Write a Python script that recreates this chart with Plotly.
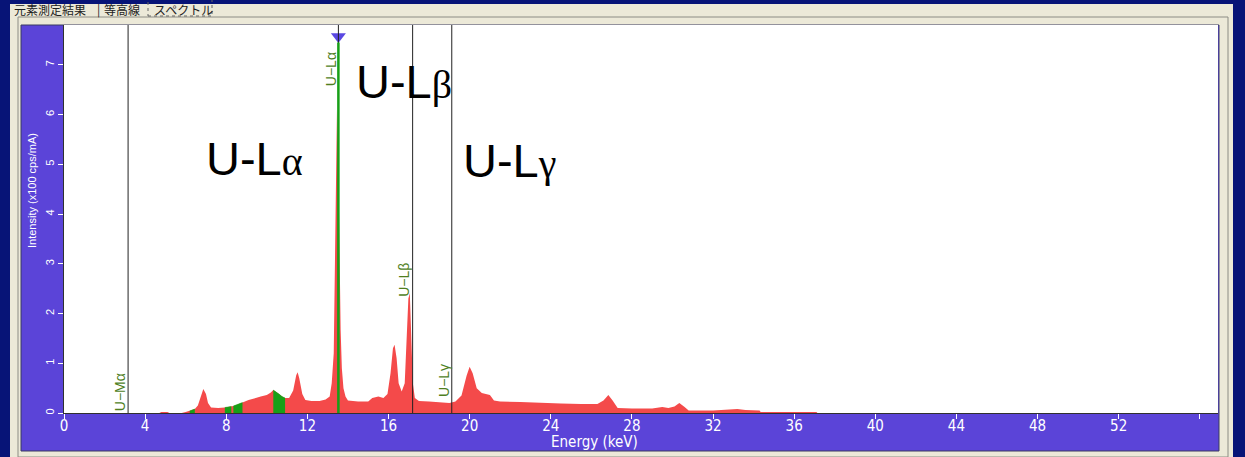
import plotly.graph_objects as go

W, H = 1245, 457

# ---- data ----
energy = [0.0, 4.7, 4.8, 5.1, 5.2, 5.8, 6.0, 6.2, 6.3, 6.45, 6.6, 6.75, 6.87, 7.0, 7.1, 7.25,
          7.4, 7.6, 7.93, 8.1, 8.25, 8.35, 8.5, 8.65, 8.8, 9.1, 9.4, 9.7, 10.0, 10.2, 10.32,
          10.45, 10.6, 10.75, 10.9, 11.1, 11.3, 11.45, 11.52, 11.6, 11.75, 11.9, 12.2, 12.6,
          12.9, 13.1, 13.2, 13.3, 13.36, 13.42, 13.46, 13.52, 13.58, 13.64, 13.7, 13.78, 13.88,
          14.0, 14.5, 15.0, 15.2, 15.5, 15.75, 15.95, 16.1, 16.22, 16.3, 16.4, 16.5, 16.65,
          16.8, 16.9, 16.98, 17.05, 17.12, 17.2, 17.3, 17.5, 18.0, 18.5, 19.0, 19.3, 19.6,
          19.85, 20.0, 20.15, 20.35, 20.6, 21.0, 21.2, 21.5, 22.5, 23.5, 24.5, 25.5, 26.3,
          26.6, 26.84, 27.05, 27.3, 28.0, 29.0, 29.5, 29.8, 30.1, 30.34, 30.6, 30.8, 32.0,
          33.2, 33.6, 34.3, 34.35, 37.1, 37.15]
intensity = [0.0, 0.0, 0.02, 0.02, 0.0, 0.0, 0.02, 0.04, 0.05, 0.08, 0.15, 0.34, 0.48, 0.38, 0.2, 0.11,
             0.1, 0.1, 0.11, 0.12, 0.13, 0.14, 0.16, 0.18, 0.21, 0.26, 0.3, 0.33, 0.36, 0.41, 0.46,
             0.43, 0.38, 0.33, 0.3, 0.3, 0.45, 0.76, 0.82, 0.7, 0.38, 0.26, 0.24, 0.24,
             0.27, 0.33, 0.6, 1.2, 2.9, 4.4, 6.1, 5.26, 3.35, 1.67, 0.9, 0.5, 0.33,
             0.25, 0.23, 0.23, 0.3, 0.33, 0.3, 0.38, 0.8, 1.3, 1.37, 1.1, 0.6, 0.43,
             0.6, 1.5, 2.3, 2.41, 1.6, 0.6, 0.3, 0.24, 0.23, 0.22, 0.2, 0.23, 0.35,
             0.75, 0.93, 0.8, 0.5, 0.4, 0.36, 0.25, 0.23, 0.22, 0.2, 0.19, 0.18, 0.18,
             0.25, 0.36, 0.25, 0.1, 0.09, 0.09, 0.12, 0.1, 0.13, 0.2, 0.12, 0.05, 0.05,
             0.08, 0.06, 0.05, 0.02, 0.02, 0.0]

green_ranges = [(6.2, 6.45), (7.93, 8.25), (8.35, 8.8), (10.32, 10.9)]

line_names = ["U−Mα", "U−Lα", "U−Lβ", "U−Lγ"]
line_energy = [3.16, 13.53, 17.19, 19.12]
label_y = [0.42, 6.92, 2.67, 0.66]

big_names = ["U-L", "U-L", "U-L"]
big_greek = ["α", "β", "γ"]

x_ticks = list(range(0, 57, 4))
x_ticktext = [str(v) if v <= 52 else "" for v in x_ticks]
y_ticks = list(range(0, 8))

X_RANGE = [0, 56.9]
Y_RANGE = [0, 7.8]


def px(x):
    return x / W


def py(y):
    return 1 - y / H


RED = "#f44a4a"
GREEN = "#17a017"
PURPLE = "#5b44d8"
NAVY = "#071477"
GRAY = "#ece9d8"
LABEL_GREEN = "#4f7f1f"
NARROW = "Liberation Sans Narrow, Arial Narrow, DejaVu Sans Condensed, sans-serif"

fig = go.Figure()

fig.add_trace(go.Scatter(x=energy, y=intensity, mode="lines", fill="tozeroy",
                         fillcolor=RED, line=dict(color=RED, width=0),
                         hoverinfo="skip", showlegend=False))

for lo, hi in green_ranges:
    xs = [e for e in energy if lo <= e <= hi]
    ys = [v for e, v in zip(energy, intensity) if lo <= e <= hi]
    fig.add_trace(go.Scatter(x=xs, y=ys, mode="lines", fill="tozeroy",
                             fillcolor=GREEN, line=dict(color=GREEN, width=0.5),
                             hoverinfo="skip", showlegend=False))

# selected line marker (triangle)
fig.add_trace(go.Scatter(x=[line_energy[1]], y=[7.57], mode="markers",
                         marker=dict(symbol="triangle-down", size=13, color="#5a48e2",
                                     line=dict(width=0)),
                         cliponaxis=False, hoverinfo="skip", showlegend=False))

shapes = []
# window background pieces
shapes.append(dict(type="rect", xref="paper", yref="paper", x0=px(10), x1=px(1233),
                   y0=py(457), y1=py(4), fillcolor=GRAY, line=dict(width=0), layer="below"))
shapes.append(dict(type="rect", xref="paper", yref="paper", x0=px(18), x1=px(1228),
                   y0=py(457), y1=py(17), fillcolor="rgba(0,0,0,0)",
                   line=dict(color="#8c8c84", width=1), layer="below"))
shapes.append(dict(type="rect", xref="paper", yref="paper", x0=px(21), x1=px(1219),
                   y0=py(451), y1=py(25), fillcolor=PURPLE,
                   line=dict(color="#3a3a60", width=1), layer="below"))
shapes.append(dict(type="rect", xref="paper", yref="paper", x0=px(64), x1=px(1218),
                   y0=py(413), y1=py(25), fillcolor="white", line=dict(width=0), layer="below"))
# tab focus box
shapes.append(dict(type="rect", xref="paper", yref="paper", x0=px(148), x1=px(212),
                   y0=py(16), y1=py(-2), fillcolor="rgba(0,0,0,0)",
                   line=dict(color="#666", width=1, dash="dot"), layer="below"))

# element lines
for e in line_energy:
    shapes.append(dict(type="line", xref="x", yref="y", x0=e, x1=e, y0=Y_RANGE[0], y1=Y_RANGE[1],
                       line=dict(color="#222222", width=1), layer="above"))
shapes.append(dict(type="line", xref="x", yref="y", x0=line_energy[1], x1=line_energy[1],
                   y0=0, y1=7.45, line=dict(color=GREEN, width=2.5), layer="above"))

annotations = []
for name, e, ly in zip(line_names, line_energy, label_y):
    annotations.append(dict(x=e, y=ly, xref="x", yref="y", text=name, textangle=-90,
                            showarrow=False, xshift=-8,
                            font=dict(family="Liberation Sans, Arial, sans-serif",
                                      size=14, color=LABEL_GREEN)))

big_pos = [(204, 158), (354, 81), (461, 160)]
for name, g, (bx, by) in zip(big_names, big_greek, big_pos):
    annotations.append(dict(x=px(bx), y=py(by), xref="paper", yref="paper",
                            xanchor="left", yanchor="middle", showarrow=False,
                            text=name + "<span style='font-family:Liberation Serif;font-size:40px'>"
                            + g + "</span>",
                            font=dict(family="Liberation Sans, Arial, sans-serif",
                                      size=47, color="black")))

annotations.append(dict(x=px(549), y=py(442), xref="paper", yref="paper", xanchor="left",
                        yanchor="middle", showarrow=False, text="Energy (keV)",
                        font=dict(family=NARROW, size=15, color="white")))
annotations.append(dict(x=px(32), y=py(191), xref="paper", yref="paper", xanchor="center",
                        yanchor="middle", showarrow=False, text="Intensity (x100 cps/mA)",
                        textangle=-90,
                        font=dict(family="Liberation Sans, Arial, sans-serif", size=11,
                                  color="white")))

tab_font = dict(family="Noto Sans CJK JP, sans-serif", size=12, color="#222")
for txt, tx in [("元素測定結果", 12), ("|", 95), ("等高線", 102), ("スペクトル", 152)]:
    annotations.append(dict(x=px(tx), y=py(9), xref="paper", yref="paper", xanchor="left",
                            yanchor="middle", showarrow=False, text=txt, font=tab_font))

fig.update_layout(
    template="none",
    width=W, height=H,
    margin=dict(l=0, r=0, t=0, b=0, pad=0),
    paper_bgcolor=NAVY,
    plot_bgcolor="rgba(0,0,0,0)",
    shapes=shapes,
    annotations=annotations,
    showlegend=False,
    xaxis=dict(domain=[px(64), px(1218)], range=X_RANGE, tickvals=x_ticks,
               ticktext=x_ticktext, ticks="outside", ticklen=5, tickcolor="white",
               ticklabelstandoff=-6, automargin=False,
               tickfont=dict(family=NARROW, size=15, color="white"),
               showline=True, linecolor="#303030", linewidth=1,
               showgrid=False, zeroline=False, fixedrange=True),
    yaxis=dict(domain=[py(413), py(25)], range=Y_RANGE, tickvals=y_ticks, tickangle=-90,
               ticks="outside", ticklen=5, tickcolor="white", automargin=False,
               tickfont=dict(family="Liberation Sans, Arial, sans-serif", size=11, color="white"),
               showline=True, linecolor="#303030", linewidth=1,
               showgrid=False, zeroline=False, fixedrange=True),
)

fig.write_html("out.html")
